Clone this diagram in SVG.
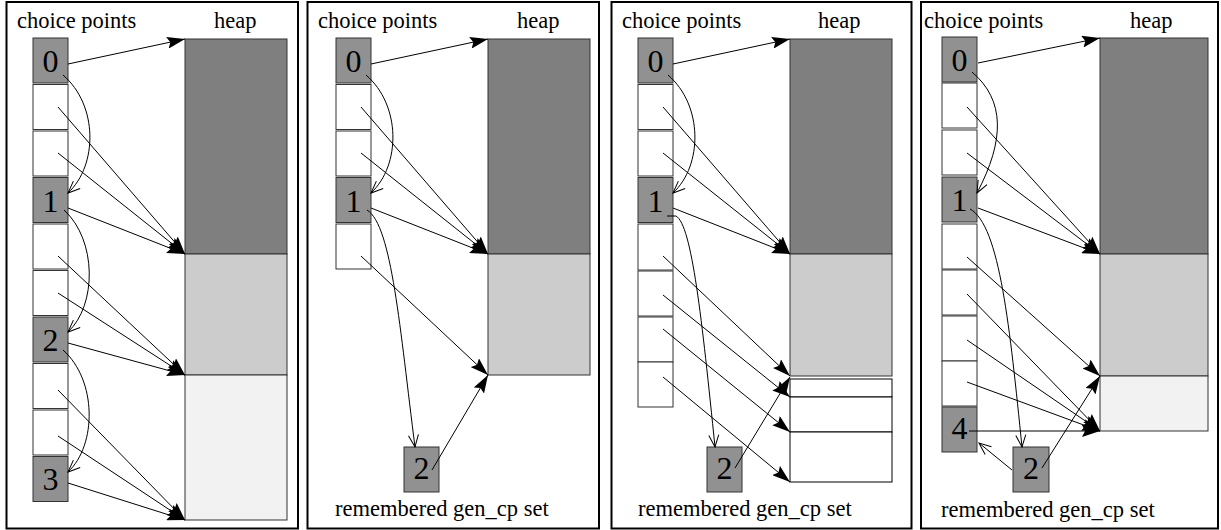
<svg xmlns="http://www.w3.org/2000/svg" width="1221" height="530" viewBox="0 0 1221 530">
<defs>
<marker id="fa" viewBox="0 0 18 12" refX="18" refY="6" markerWidth="18" markerHeight="12" markerUnits="userSpaceOnUse" orient="auto"><path d="M0,0 L18,6 L0,12 L3,6 z" fill="#000"/></marker>
<marker id="oa" viewBox="0 0 12 10" refX="12" refY="5" markerWidth="12" markerHeight="10" markerUnits="userSpaceOnUse" orient="auto" overflow="visible"><path d="M0,0 L12,5 L0,10" fill="none" stroke="#000" stroke-width="1"/></marker>
</defs>
<style>
.frame{fill:none;stroke:#000;stroke-width:2}
.cg{fill:#919191;stroke:#333;stroke-width:1}
.cw{fill:#fff;stroke:#333;stroke-width:1}
.h1{fill:#7f7f7f;stroke:#333;stroke-width:1}
.h2{fill:#cccccc;stroke:#333;stroke-width:1}
.h3{fill:#f2f2f2;stroke:#333;stroke-width:1}
.h4{fill:#fff;stroke:#000;stroke-width:1}
.lbl{font-family:"Liberation Serif","Times New Roman",serif;font-size:22.5px;fill:#000}
.num{font-family:"Liberation Serif","Times New Roman",serif;font-size:32px;fill:#000;text-anchor:middle}
.a{fill:none;stroke:#000;stroke-width:1;marker-end:url(#fa)}
.o{fill:none;stroke:#000;stroke-width:1;marker-end:url(#oa)}
</style>
<rect width="1221" height="530" fill="#fff"/>

<g id="frames">
<rect class="frame" x="6.5" y="2" width="291.5" height="526.5"/>
<rect class="frame" x="307.5" y="2" width="291.5" height="526.5"/>
<rect class="frame" x="611.5" y="2" width="300" height="526.5"/>
<rect class="frame" x="921" y="2" width="297" height="526.5"/>
</g>

<g id="labels">
<text class="lbl" x="17" y="28">choice points</text>
<text class="lbl" x="214" y="28">heap</text>
<text class="lbl" x="318" y="28">choice points</text>
<text class="lbl" x="517" y="28">heap</text>
<text class="lbl" x="335" y="516">remembered gen_cp set</text>
<text class="lbl" x="622" y="28">choice points</text>
<text class="lbl" x="818" y="28">heap</text>
<text class="lbl" x="638" y="516">remembered gen_cp set</text>
<text class="lbl" x="924" y="28">choice points</text>
<text class="lbl" x="1130" y="28">heap</text>
<text class="lbl" x="941" y="517">remembered gen_cp set</text>
</g>

<!-- Panel 1 -->
<g id="p1-heap">
<rect class="h1" x="185" y="39" width="102" height="215"/>
<rect class="h2" x="185" y="254" width="102" height="121"/>
<rect class="h3" x="185" y="375" width="102" height="145"/>
</g>
<g id="p1-cp0"><rect class="cg" x="33" y="38" width="35" height="45"/><text class="num" x="50.5" y="72">0</text></g>
<g id="p1-c1"><rect class="cw" x="33" y="84.5" width="35" height="45"/></g>
<g id="p1-c2"><rect class="cw" x="33" y="131" width="35" height="45"/></g>
<g id="p1-cp1"><rect class="cg" x="33" y="177.5" width="35" height="45"/><text class="num" x="50.5" y="211.5">1</text></g>
<g id="p1-c4"><rect class="cw" x="33" y="224" width="35" height="45"/></g>
<g id="p1-c5"><rect class="cw" x="33" y="270.5" width="35" height="45"/></g>
<g id="p1-cp2"><rect class="cg" x="33" y="317" width="35" height="45"/><text class="num" x="50.5" y="351">2</text></g>
<g id="p1-c7"><rect class="cw" x="33" y="363.5" width="35" height="45"/></g>
<g id="p1-c8"><rect class="cw" x="33" y="410" width="35" height="45"/></g>
<g id="p1-cp3"><rect class="cg" x="33" y="456.5" width="35" height="45"/><text class="num" x="50.5" y="490">3</text></g>

<!-- Panel 2 -->
<g id="p2-heap">
<rect class="h1" x="488" y="39" width="102" height="215"/>
<rect class="h2" x="488" y="254" width="102" height="121"/>
</g>
<g id="p2-cp0"><rect class="cg" x="336" y="38" width="35" height="45"/><text class="num" x="353.5" y="72">0</text></g>
<g id="p2-c1"><rect class="cw" x="336" y="84.5" width="35" height="45"/></g>
<g id="p2-c2"><rect class="cw" x="336" y="131" width="35" height="45"/></g>
<g id="p2-cp1"><rect class="cg" x="336" y="177.5" width="35" height="45"/><text class="num" x="353.5" y="211.5">1</text></g>
<g id="p2-c4"><rect class="cw" x="336" y="224" width="35" height="45"/></g>
<g id="p2-gen2"><rect class="cg" x="404" y="447" width="35" height="45"/><text class="num" x="421.5" y="479">2</text></g>

<!-- Panel 3 -->
<g id="p3-heap">
<rect class="h1" x="790" y="39" width="102" height="215"/>
<rect class="h2" x="790" y="254" width="102" height="122"/>
<rect class="h4" x="790" y="379" width="102" height="18"/>
<rect class="h4" x="790" y="397" width="102" height="35"/>
<rect class="h4" x="790" y="432" width="102" height="50"/>
</g>
<g id="p3-cp0"><rect class="cg" x="638" y="38" width="35" height="45"/><text class="num" x="655.5" y="72">0</text></g>
<g id="p3-c1"><rect class="cw" x="638" y="84.5" width="35" height="45"/></g>
<g id="p3-c2"><rect class="cw" x="638" y="131" width="35" height="45"/></g>
<g id="p3-cp1"><rect class="cg" x="638" y="177.5" width="35" height="45"/><text class="num" x="655.5" y="211.5">1</text></g>
<g id="p3-c4"><rect class="cw" x="638" y="224" width="35" height="46"/></g>
<g id="p3-c5"><rect class="cw" x="638" y="271" width="35" height="45"/></g>
<g id="p3-c6"><rect class="cw" x="638" y="317" width="35" height="45"/></g>
<g id="p3-c7"><rect class="cw" x="638" y="362" width="35" height="45"/></g>
<g id="p3-gen2"><rect class="cg" x="707" y="447" width="35" height="45"/><text class="num" x="724.5" y="479">2</text></g>

<!-- Panel 4 -->
<g id="p4-heap">
<rect class="h1" x="1100" y="38" width="108" height="216"/>
<rect class="h2" x="1100" y="254" width="108" height="122"/>
<rect class="h3" x="1100" y="376" width="108" height="55"/>
</g>
<g id="p4-cp0"><rect class="cg" x="942" y="37" width="35" height="45"/><text class="num" x="959.5" y="71">0</text></g>
<g id="p4-c1"><rect class="cw" x="942" y="83" width="35" height="45"/></g>
<g id="p4-c2"><rect class="cw" x="942" y="130" width="35" height="45"/></g>
<g id="p4-cp1"><rect class="cg" x="942" y="177" width="35" height="45"/><text class="num" x="959.5" y="211">1</text></g>
<g id="p4-c4"><rect class="cw" x="942" y="224" width="35" height="45"/></g>
<g id="p4-c5"><rect class="cw" x="942" y="270" width="35" height="45"/></g>
<g id="p4-c6"><rect class="cw" x="942" y="316" width="35" height="45"/></g>
<g id="p4-c7"><rect class="cw" x="942" y="361" width="35" height="45"/></g>
<g id="p4-cp4"><rect class="cg" x="942" y="407" width="35" height="45"/><text class="num" x="959.5" y="439">4</text></g>
<g id="p4-gen2"><rect class="cg" x="1013" y="447" width="36" height="45"/><text class="num" x="1031" y="479">2</text></g>

<g id="connectors">
<!-- panel 1 -->
<path class="a" d="M68,64 L185,39"/>
<path class="a" d="M58,107 L185,254"/>
<path class="a" d="M58,153 L185,254"/>
<path class="a" d="M68,208 L185,254"/>
<path class="a" d="M58,256 L185,375"/>
<path class="a" d="M58,293 L185,375"/>
<path class="a" d="M68,343 L185,375"/>
<path class="a" d="M58,390 L185,520"/>
<path class="a" d="M58,436 L185,520"/>
<path class="a" d="M68,483 L185,520"/>
<path class="o" d="M63,75 C98,105 98,165 68,193"/>
<path class="o" d="M64,210 C97,240 97,305 68,332"/>
<path class="o" d="M63,350 C97,380 97,445 68,472"/>
<!-- panel 2 -->
<path class="a" d="M371,64 L488,39"/>
<path class="a" d="M361,107 L488,254"/>
<path class="a" d="M361,153 L488,254"/>
<path class="a" d="M371,208 L488,254"/>
<path class="a" d="M361,256 L488,375"/>
<path class="a" d="M432,470 L488,375"/>
<path class="o" d="M366,75 C401,105 401,165 371,193"/>
<path class="o" d="M367,210 C392,225 400,330 415,447"/>
<!-- panel 3 -->
<path class="a" d="M673,64 L790,39"/>
<path class="a" d="M663,107 L790,254"/>
<path class="a" d="M663,153 L790,254"/>
<path class="a" d="M673,208 L790,254"/>
<path class="a" d="M663,256 L790,376"/>
<path class="a" d="M663,295 L790,397"/>
<path class="a" d="M663,329 L790,432"/>
<path class="a" d="M663,377 L790,482"/>
<path class="a" d="M735,468 L790,377"/>
<path class="o" d="M668,75 C703,105 703,165 673,193"/>
<path class="o" d="M667,216 L676,216 C692,225 702,320 715,447"/>
<!-- panel 4 -->
<path class="a" d="M978,63 L1100,38"/>
<path class="a" d="M967,107 L1100,254"/>
<path class="a" d="M967,153 L1100,254"/>
<path class="a" d="M978,208 L1100,254"/>
<path class="a" d="M967,257 L1100,376"/>
<path class="a" d="M967,294 L1100,431"/>
<path class="a" d="M967,340 L1100,431"/>
<path class="a" d="M967,382 L1100,431"/>
<path class="a" d="M969,431 L1100,431"/>
<path class="a" d="M1042,468 L1100,376"/>
<path class="o" d="M972,72 C1005,100 1005,140 977,193"/>
<path class="o" d="M970,209 C1000,225 1010,330 1022,447"/>
<path class="o" d="M1012,470 L979,443"/>
</g>
</svg>
